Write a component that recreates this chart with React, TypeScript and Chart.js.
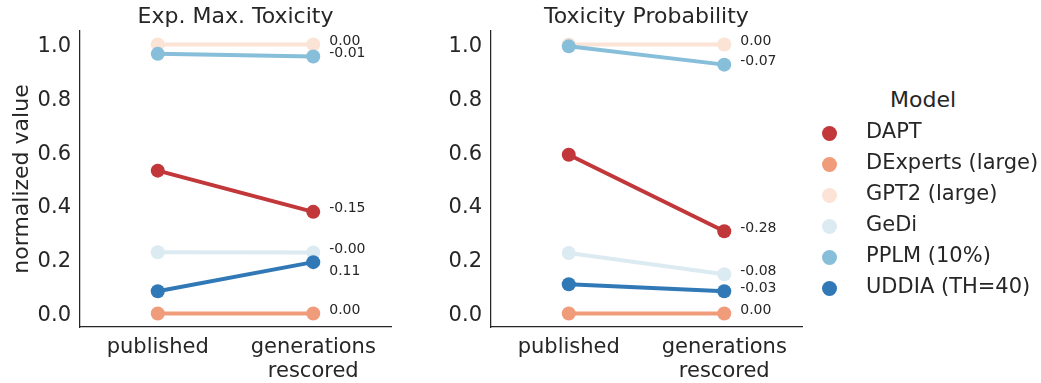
import React, { useEffect, useRef } from "react";
import { Chart, registerables } from "chart.js";

Chart.register(...registerables);

const MODELS = ["DAPT", "DExperts (large)", "GPT2 (large)", "GeDi", "PPLM (10%)", "UDDIA (TH=40)"];
const COLORS = ["#c1373a", "#f09b7a", "#fbe3d5", "#dceaf2", "#87bed9", "#3079b6"];
const CATEGORIES = [["published"], ["generations", "rescored"]];
const Y_TICKS = [0, 0.2, 0.4, 0.6, 0.8, 1.0];

// Exp. Max. Toxicity (normalized)
const EMT_PUBLISHED = [0.531, 0.0, 1.0, 0.228, 0.965, 0.083];
const EMT_RESCORED = [0.378, 0.0, 1.0, 0.227, 0.955, 0.191];
// Toxicity Probability (normalized)
const TP_PUBLISHED = [0.59, 0.0, 1.0, 0.225, 0.993, 0.109];
const TP_RESCORED = [0.306, 0.0, 1.0, 0.146, 0.925, 0.083];

// vertical nudges of the difference labels (px)
const EMT_LABEL_DY = [-3.3, -3.3, -3.3, -3.3, -3.3, 9.3];
const TP_LABEL_DY = [-3.3, -3.3, -3.3, -3.3, -3.3, -3.3];

const TEXT = "#262626";
const FONT = "DejaVu Sans";

type PanelProps = {
  title: string;
  published: number[];
  rescored: number[];
  labelDy: number[];
  showYTitle: boolean;
  left: number;
  width: number;
  axisWidth: number;
  padRight: number;
};

function Panel(p: PanelProps) {
  const ref = useRef<HTMLCanvasElement>(null);
  useEffect(() => {
    if (!ref.current) return;
    const datasets = MODELS.map((m, i) => ({
      label: m,
      data: [p.published[i], p.rescored[i]],
      borderColor: COLORS[i],
      backgroundColor: COLORS[i],
      pointBackgroundColor: COLORS[i],
      pointBorderColor: COLORS[i],
      pointBorderWidth: 0,
      pointRadius: 7,
      pointHoverRadius: 7,
      borderWidth: 4,
      tension: 0,
      order: MODELS.length - i,
    }));
    const diffLabels = {
      id: "diffLabels",
      afterDatasetsDraw(chart: any) {
        const ctx = chart.ctx;
        const xs = chart.scales.x;
        const ys = chart.scales.y;
        ctx.save();
        ctx.font = `14px '${FONT}'`;
        ctx.fillStyle = TEXT;
        ctx.textAlign = "left";
        ctx.textBaseline = "middle";
        MODELS.forEach((_, i) => {
          const d = p.rescored[i] - p.published[i];
          const x = xs.getPixelForValue(1) + 16;
          const y = ys.getPixelForValue(p.rescored[i]) + p.labelDy[i];
          ctx.fillText(d.toFixed(2), x, y);
        });
        ctx.restore();
      },
    };
    const chart = new Chart(ref.current, {
      type: "line",
      data: { labels: CATEGORIES as any, datasets },
      plugins: [diffLabels],
      options: {
        animation: false,
        responsive: false,
        devicePixelRatio: 1,
        layout: { padding: { left: 0, right: p.padRight, top: 0, bottom: 0 } },
        plugins: {
          legend: { display: false },
          tooltip: { enabled: false },
          title: {
            display: true,
            text: p.title,
            color: TEXT,
            fullSize: false,
            font: { family: FONT, size: 22, weight: "normal" as any, lineHeight: 1.2 },
            padding: { top: 4.5, bottom: 0.1 },
          },
        },
        scales: {
          x: {
            type: "category",
            offset: true,
            grid: { display: false, drawTicks: false },
            border: { display: true, color: TEXT, width: 1.25 },
            ticks: {
              color: TEXT,
              font: { family: FONT, size: 21, lineHeight: 24 / 21 },
              padding: 9,
              maxRotation: 0,
              autoSkip: false,
            },
            afterFit: (s: any) => {
              s.height = 56;
            },
          },
          y: {
            type: "linear",
            min: -0.05,
            max: 1.05,
            grid: { display: false, drawTicks: false },
            border: { display: true, color: TEXT, width: 1.25 },
            ticks: {
              color: TEXT,
              font: { family: FONT, size: 21 },
              padding: 9,
              labelOffset: 2,
              callback: (v: any) => Number(v).toFixed(1),
            },
            afterBuildTicks: (s: any) => {
              s.ticks = Y_TICKS.map((v) => ({ value: v }));
            },
            afterFit: (s: any) => {
              s.width = p.axisWidth;
            },
            title: {
              display: p.showYTitle,
              text: "normalized value",
              color: TEXT,
              font: { family: FONT, size: 22, lineHeight: 1.2 },
              padding: { top: 9.2, bottom: 0 },
            },
          },
        },
      } as any,
    });
    return () => chart.destroy();
  }, []);
  return (
    <canvas
      ref={ref}
      width={p.width}
      height={383}
      style={{ position: "absolute", left: p.left, top: 0, width: p.width, height: 383 }}
    />
  );
}

function Legend() {
  return (
    <>
      <div
        style={{
          position: "absolute",
          left: 823,
          top: 87,
          width: 200,
          textAlign: "center",
          font: `22px '${FONT}'`,
          lineHeight: "26px",
          color: TEXT,
          whiteSpace: "nowrap",
        }}
      >
        Model
      </div>
      {MODELS.map((m, i) => (
        <div
          key={m}
          style={{ position: "absolute", left: 0, top: 116.2 + i * 31.05, width: 1041, height: 31 }}
        >
          <span
            style={{
              position: "absolute",
              left: 821.5,
              top: 9.6,
              width: 15,
              height: 15,
              borderRadius: "50%",
              background: COLORS[i],
            }}
          />
          <span
            style={{
              position: "absolute",
              left: 866,
              top: 0,
              font: `21px '${FONT}'`,
              lineHeight: "31px",
              color: TEXT,
              whiteSpace: "nowrap",
            }}
          >
            {m}
          </span>
        </div>
      ))}
    </>
  );
}

export default function App() {
  return (
    <div
      style={{
        position: "absolute",
        left: 0,
        top: 0,
        width: 1041,
        height: 383,
        background: "#ffffff",
        overflow: "hidden",
      }}
    >
      <Panel
        title="Exp. Max. Toxicity"
        published={EMT_PUBLISHED}
        rescored={EMT_RESCORED}
        labelDy={EMT_LABEL_DY}
        showYTitle={true}
        left={0}
        width={400}
        axisWidth={80}
        padRight={9}
      />
      <Panel
        title="Toxicity Probability"
        published={TP_PUBLISHED}
        rescored={TP_RESCORED}
        labelDy={TP_LABEL_DY}
        showYTitle={false}
        left={400}
        width={410}
        axisWidth={91}
        padRight={8}
      />
      <Legend />
    </div>
  );
}
